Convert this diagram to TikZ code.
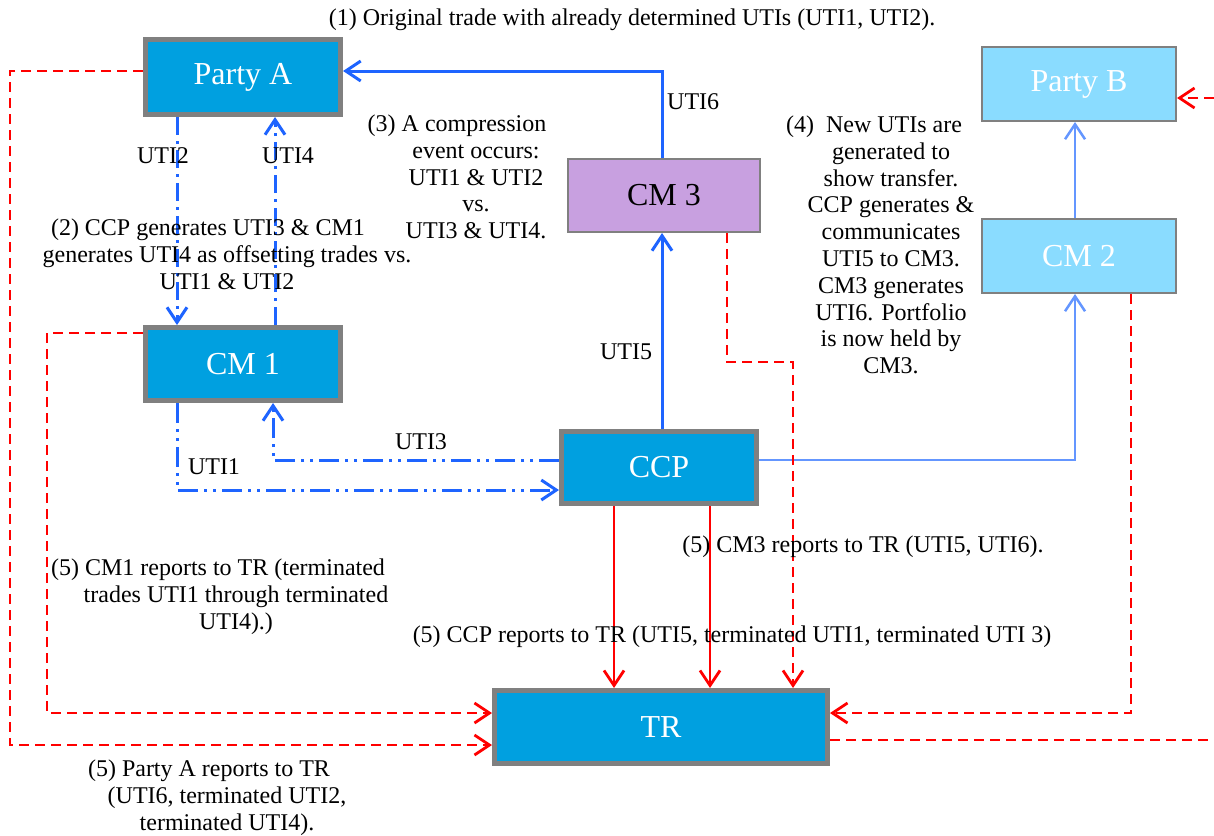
\documentclass[tikz,border=0pt]{standalone}
\usepackage{fontspec}
\setmainfont{Liberation Serif}
\usetikzlibrary{arrows.meta}
\definecolor{boxblue}{RGB}{0,160,224}
\definecolor{boxgray}{RGB}{128,128,128}
\definecolor{lilac}{RGB}{200,160,224}
\definecolor{skyb}{RGB}{138,220,255}
\definecolor{bl}{RGB}{30,100,255}
\definecolor{lbl}{RGB}{100,150,255}
\definecolor{rd}{RGB}{255,0,0}
\tikzset{
  bigbox/.style={draw=boxgray, line width=5pt, fill=boxblue, text=white, inner sep=0pt,
    font=\fontsize{32}{36}\selectfont},
  thinbox/.style={draw=boxgray, line width=2pt, inner sep=0pt, font=\fontsize{32}{36}\selectfont},
  txt/.style={align=center, inner sep=0pt, font=\fontsize{24}{26.8}\selectfont},
  lab/.style={inner sep=0pt, font=\fontsize{24}{26.8}\selectfont},
  barb/.style={-{Straight Barb[length=15pt,width=20pt]}},
  bline/.style={draw=bl, line width=3pt},
  lbline/.style={draw=lbl, line width=2.5pt},
  bdash/.style={draw=bl, line width=3pt, dash pattern=on 18pt off 6pt on 3pt off 6pt},
  bdashdd/.style={draw=bl, line width=3pt, dash pattern=on 20pt off 6pt on 3pt off 6pt on 3pt off 6pt},
  rline/.style={draw=rd, line width=2.8pt},
  rdash/.style={draw=rd, line width=2.8pt, dash pattern=on 10pt off 6pt},
}
\begin{document}
\begin{tikzpicture}[x=1pt,y=-1pt]
\useasboundingbox (0,0) rectangle (1214,835);
% boxes
\node[bigbox, minimum width=195pt, minimum height=75pt] (pa) at (243,77) {Party A};
\node[bigbox, minimum width=195pt, minimum height=73pt] (cm1) at (243,364) {CM 1};
\node[bigbox, minimum width=195pt, minimum height=72pt] (ccp) at (659,467.5) {CCP};
\node[bigbox, minimum width=333pt, minimum height=73pt] (tr) at (661,727) {TR};
\node[thinbox, fill=lilac, text=black, minimum width=192pt, minimum height=73pt] (cm3) at (664,195.5) {CM 3};
\node[thinbox, fill=skyb, text=white, minimum width=194pt, minimum height=74pt] (pb) at (1079,84) {Party B};
\node[thinbox, fill=skyb, text=white, minimum width=194pt, minimum height=74pt] (cm2) at (1079,256) {CM 2};
\coordinate (redge) at (1214,740);
\coordinate (pbedge) at (1214,98);
% blue connectors
\draw[bline,barb] ([xshift=-2pt]cm3.north) |- ([yshift=6pt]pa.east);
\draw[bdash,barb] ([xshift=-66pt]pa.south) -- ([xshift=-66pt]cm1.north);
\draw[bdash,barb] ([xshift=32pt]cm1.north) -- ([xshift=32pt]pa.south);
\draw[bdashdd,barb] ([xshift=-66pt]cm1.south) |- ([yshift=-22.5pt]ccp.west);
\draw[bdashdd,barb] ([yshift=7.5pt]ccp.west) -| ([xshift=30pt]cm1.south);
\draw[bline,barb] ([xshift=3pt]ccp.north) -- ([xshift=-2pt]cm3.south);
\draw[lbline,barb] ([yshift=7.5pt]ccp.east) -| ([xshift=-4pt]cm2.south);
\draw[lbline,barb] ([xshift=-4pt]cm2.north) -- ([xshift=-4pt]pb.south);
% red connectors
\draw[rdash,barb] ([yshift=6pt]pa.west) -- ++(-133,0) |- ([yshift=-18pt]tr.west);
\draw[rdash,barb] ([yshift=31pt]cm1.west) -- ++(-96,0) |- ([yshift=14pt]tr.west);
\draw[rline,barb] ([xshift=-45pt]ccp.south) -- ([xshift=-47pt]tr.north);
\draw[rline,barb] ([xshift=51pt]ccp.south) -- ([xshift=49pt]tr.north);
\draw[rdash,barb] ([xshift=63pt]cm3.south) -- ++(0,129) -- ++(66,0) -- ([xshift=132pt]tr.north);
\draw[rdash,barb] ([xshift=52pt]cm2.south) |- ([yshift=14pt]tr.east);
\draw[rdash] ([yshift=-13pt]tr.east) -- (redge);
\draw[rdash,barb] (pbedge) -- (pb.east |- pbedge);
% labels
\node[lab, anchor=west] (l6) at (667,102) {UTI6};
\node[lab] (l2) at (163,156) {UTI2};
\node[lab] (l4) at (288,156) {UTI4};
\node[lab] (l5) at (626,352) {UTI5};
\node[lab] (l3) at (421,442) {UTI3};
\node[lab] (l1) at (214,467) {UTI1};
% texts
\node[txt] (t1) at (632,20) {(1) Original trade with already determined UTIs (UTI1, UTI2).};
\node[txt] (t2) at (227,254) {(2) CCP generates UTI3 \& CM1\hspace*{38pt}\\generates UTI4 as offsetting trades vs.\\UTI1 \& UTI2};
\node[txt] (t3) at (476,177) {(3) A compression\hspace*{38pt}\\event occurs:\\UTI1 \& UTI2\\vs.\\UTI3 \& UTI4.};
\node[txt] (t4) at (891,245) {(4)\ \ New UTIs are\hspace*{34pt}\\generated to\\show transfer.\\CCP generates \&\\communicates\\UTI5 to CM3.\\CM3 generates\\UTI6. Portfolio\\is now held by\\CM3.};
\node[txt] (t5a) at (863,547) {(5) CM3 reports to TR (UTI5, UTI6).};
\node[txt] (t5b) at (236,597) {(5) CM1 reports to TR (terminated\hspace*{36pt}\\trades UTI1 through terminated\\UTI4).)};
\node[txt] (t5c) at (732,637) {(5) CCP reports to TR (UTI5, terminated UTI1, terminated UTI 3)};
\node[txt] (t5d) at (227,798) {(5) Party A reports to TR\hspace*{36pt}\\(UTI6, terminated UTI2,\\terminated UTI4).};
\end{tikzpicture}
\end{document}
